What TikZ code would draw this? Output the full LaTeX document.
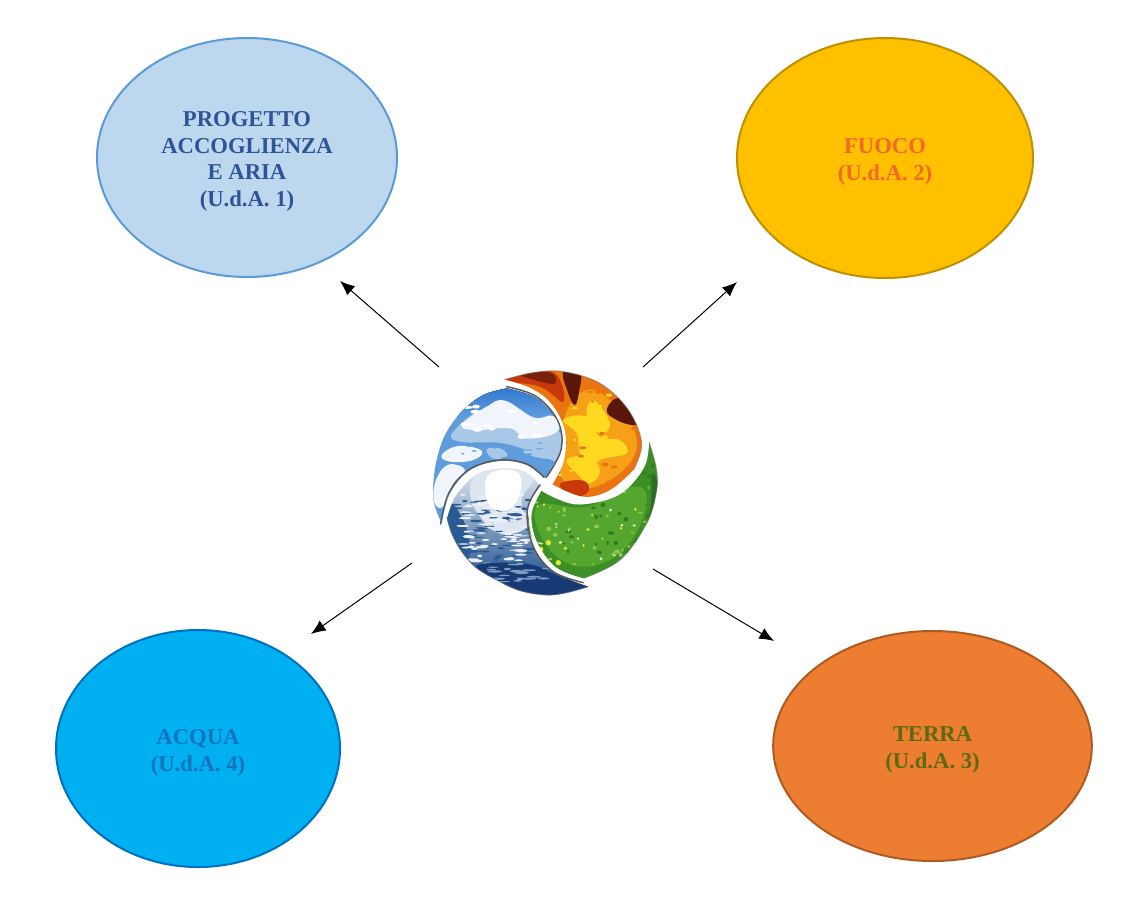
\documentclass[tikz,border=0pt]{standalone}
\usepackage{fontspec}
\setmainfont{Liberation Serif}
\usetikzlibrary{shapes.geometric,arrows.meta}
\definecolor{airfill}{HTML}{BDD7EE}\definecolor{airline}{HTML}{5B9BD5}\definecolor{airtext}{HTML}{2F5496}
\definecolor{firefill}{HTML}{FFC000}\definecolor{fireline}{HTML}{BF9000}\definecolor{firetext}{HTML}{F4682A}
\definecolor{earthfill}{HTML}{ED7D31}\definecolor{earthline}{HTML}{AE5A21}\definecolor{earthtext}{HTML}{5E6A12}
\definecolor{waterfill}{HTML}{00B0F0}\definecolor{waterline}{HTML}{0070C0}\definecolor{watertext}{HTML}{1273BE}
% logo palette
\definecolor{skyA}{HTML}{2A74CE}\definecolor{skyB}{HTML}{5F9CDC}\definecolor{skyC}{HTML}{A9C8E8}\definecolor{skyD}{HTML}{F0F5FB}
\definecolor{flA}{HTML}{EA7410}\definecolor{flB}{HTML}{F6A018}\definecolor{flC}{HTML}{FFD820}\definecolor{flD}{HTML}{5A1608}\definecolor{flE}{HTML}{C8380A}
\definecolor{grA}{HTML}{3C8F26}\definecolor{grB}{HTML}{55A62E}\definecolor{grC}{HTML}{1F5E1E}\definecolor{grD}{HTML}{8CC850}\definecolor{grE}{HTML}{E4E83A}
\definecolor{waA}{HTML}{7E9DC2}\definecolor{waB}{HTML}{2A5A94}\definecolor{waC}{HTML}{DDE6F0}\definecolor{waD}{HTML}{173A74}
\tikzset{
  element/.style={ellipse,draw,line width=1.5pt,inner sep=0pt},
  elementtext/.style={inner sep=0pt,align=center,font=\fontsize{17}{19.9}\selectfont\bfseries},
  link/.style={-{Latex[length=11pt,width=9pt]},line width=.75pt,black},
  edgewhite/.style={draw=white,line width=2pt,line join=round,line cap=round},
  edgedark/.style={draw=black!65,line width=1.1pt,line join=round,line cap=round},
  rim/.style={draw=black!55,line width=.8pt,opacity=.5}
}
\newcommand{\blob}[2]{\fill[#1] plot[smooth cycle,tension=.7] coordinates {#2};}
\newcommand{\speck}[8]{% count, x0, xspan, y0, yspan, rx, ry, colour
  \foreach \i in {1,...,#1}{\pgfmathsetmacro\xx{#2+rnd*#3}\pgfmathsetmacro\yy{#4+rnd*#5}
    \fill[#8] (\xx,\yy) ellipse ({#6*(.5+rnd)} and {#7*(.5+rnd)});}}
\def\skypath{plot[smooth,tension=.6] coordinates {(65,490)(42,430)(40,370)(50,300)(75,225)(125,155)(190,105)(260,85)}
  -- plot[smooth,tension=.6] coordinates {(260,85)(350,115)(415,190)(420,270)(375,355)}
  -- plot[smooth,tension=.6] coordinates {(375,355)(320,315)(240,303)(150,330)(90,400)(65,490)} -- cycle}
\def\firepath{plot[smooth,tension=.6] coordinates {(250,60)(340,38)(430,35)(540,70)(625,150)(665,250)(640,330)}
  -- plot[smooth,tension=.6] coordinates {(640,330)(570,390)(490,410)(395,372)}
  -- plot[smooth,tension=.6] coordinates {(395,372)(430,300)(432,210)(390,130)(330,85)(250,60)} -- cycle}
\def\grasspath{plot[smooth,tension=.6] coordinates {(685,240)(708,320)(710,390)(680,490)(600,600)(490,655)}
  -- plot[smooth,tension=.6] coordinates {(490,655)(400,620)(340,540)(325,470)(360,390)}
  -- plot[smooth,tension=.6] coordinates {(360,390)(420,420)(500,430)(600,400)(670,320)(685,240)} -- cycle}
\def\waterpath{plot[smooth,tension=.6] coordinates {(505,680)(440,698)(380,705)(300,692)(230,660)(165,620)(122,570)(95,520)(80,470)}
  -- plot[smooth,tension=.6] coordinates {(80,470)(105,405)(170,340)(250,320)(320,335)(360,370)}
  -- plot[smooth,tension=.6] coordinates {(360,370)(322,450)(340,560)(400,635)(505,680)} -- cycle}
\begin{document}
\begin{tikzpicture}[x=.75pt,y=-.75pt]
\useasboundingbox (0,0) rectangle (1145,900);
\fill[white] (0,0) rectangle (1145,900);

\node[element,draw=airline,fill=airfill,minimum width=225pt,minimum height=179.25pt] (aria) at (247,157.5) {};
\node[element,draw=fireline,fill=firefill,minimum width=222pt,minimum height=180pt] (fuoco) at (885,158) {};
\node[element,draw=earthline,fill=earthfill,minimum width=239pt,minimum height=172.5pt] (terra) at (932.5,746) {};
\node[element,draw=waterline,fill=waterfill,minimum width=213pt,minimum height=177.75pt] (acqua) at (198,748.5) {};
\node[elementtext,text=airtext] (ariatext) at (247,161.5) {PROGETTO\\ACCOGLIENZA\\E ARIA\\(U.d.A. 1)};
\node[elementtext,text=firetext] (fuocotext) at (885,162) {FUOCO\\(U.d.A. 2)};
\node[elementtext,text=earthtext] (terratext) at (932.5,750) {TERRA\\(U.d.A. 3)};
\node[elementtext,text=watertext] (acquatext) at (198,753) {ACQUA\\(U.d.A. 4)};

\coordinate (s1) at (439,367); \coordinate (e1) at (340,281);
\coordinate (s2) at (643,367); \coordinate (e2) at (737,282);
\coordinate (s3) at (653,569); \coordinate (e3) at (774,641);
\coordinate (s4) at (412,563); \coordinate (e4) at (311,634);
\draw[link] (s1) -- (e1);
\draw[link] (s2) -- (e2);
\draw[link] (s3) -- (e3);
\draw[link] (s4) -- (e4);

\begin{scope}[shift={(420,360)},x=.25pt,y=-.25pt]
  \pgfmathsetseed{11}
  % sky
  \begin{scope}
    \clip \skypath;
    \fill[skyB] (0,60) rectangle (450,520);
    \fill[top color=skyA,bottom color=skyB] (100,70) rectangle (430,170);
    \blob{skyC}{(100,215)(200,145)(330,170)(425,225)(415,300)(360,285)(250,250)(120,245)}
    \blob{skyD}{(125,195)(200,140)(255,122)(340,172)(400,168)(412,215)(320,236)(270,205)(170,210)}
    \speck{12}{120}{280}{135}{100}{14}{6}{white}
    \blob{skyD}{(65,285)(115,258)(185,272)(160,300)(90,305)}
    \blob{skyC}{(310,272)(350,262)(410,275)(395,296)(335,288)}
    \blob{skyC}{(200,268)(240,265)(262,288)(220,296)}
    \blob{skyD}{(48,360)(85,314)(135,330)(100,370)(70,440)(42,425)}
    \speck{16}{60}{340}{245}{60}{10}{3}{skyB}
  \end{scope}
  % fire
  \begin{scope}
    \clip \firepath;
    \fill[flA] (230,20) rectangle (680,420);
    \blob{flE}{(250,60)(340,35)(410,45)(430,125)(360,80)}
    \blob{flB}{(430,180)(500,90)(590,140)(650,240)(610,330)(500,385)(420,340)}
    \blob{flC}{(430,180)(500,170)(540,230)(600,240)(620,280)(540,300)(520,340)(480,280)(470,220)}
    \blob{flC}{(520,120)(570,190)(540,220)(500,170)}
    \blob{flC}{(440,300)(500,290)(540,330)(510,370)(470,340)}
    \speck{16}{420}{220}{100}{280}{8}{4}{flC}
    \speck{16}{410}{240}{60}{330}{8}{4}{flA}
    \blob{flD}{(430,35)(480,40)(478,90)(465,135)(445,100)}
    \blob{flD}{(560,150)(600,115)(660,180)(640,195)(590,180)}
    \blob{flE}{(420,372)(490,362)(505,395)(460,410)}
    \blob{flD!70!flE}{(300,42)(390,38)(405,70)(350,62)}
  \end{scope}
  % grass
  \begin{scope}
    \clip \grasspath;
    \fill[grA] (310,220) rectangle (720,670);
    \blob{grB}{(350,440)(500,440)(640,380)(680,430)(620,560)(500,620)(390,570)}
    \blob{grC!70!grA}{(590,625)(680,490)(700,340)(725,500)(640,650)(500,675)}
    \speck{50}{330}{370}{260}{380}{7}{6}{grC!40!grA}
    \speck{40}{340}{350}{300}{340}{6}{5}{grD}
    \speck{12}{350}{300}{450}{190}{4}{4}{white!70!grD}
    \speck{12}{350}{300}{420}{190}{4}{4}{grE}
    \foreach \px/\py in {385/548,415/608,362/568}{\fill[grE] (\px,\py) circle (8);}
  \end{scope}
  % water
  \begin{scope}
    \clip \waterpath;
    \fill[top color=waC,bottom color=waB] (60,330) rectangle (520,650);
    \fill[waB] (60,640) rectangle (520,720);
    \blob{waB}{(80,430)(125,470)(150,560)(130,610)(70,540)}
    \blob{waC}{(170,345)(260,325)(340,350)(305,420)(320,500)(240,520)(180,470)(150,400)}
    \speck{70}{95}{240}{420}{200}{14}{3}{waB}
    \speck{90}{120}{200}{400}{210}{14}{3}{white!85!waA}
    \blob{white}{(205,345)(290,335)(300,400)(260,450)(205,430)}
    \blob{waD}{(165,620)(320,612)(420,650)(505,680)(400,712)(260,690)}
    \speck{20}{200}{260}{610}{60}{16}{3}{waA}
  \end{scope}
  % outer rim
  \draw[rim] plot[smooth,tension=.6] coordinates {(505,680)(440,698)(380,705)(300,692)(230,660)(165,620)(122,570)(95,520)(80,470)};
  \draw[rim] plot[smooth,tension=.6] coordinates {(685,240)(708,320)(710,390)(680,490)(600,600)(490,655)};
  \draw[rim] plot[smooth,tension=.6] coordinates {(250,60)(340,38)(430,35)(540,70)(625,150)(665,250)(640,330)};
  % dividing lines
  \draw[edgedark] plot[smooth,tension=.6] coordinates {(260,80)(350,110)(415,185)(423,270)(379,352)};
  \draw[edgewhite] plot[smooth,tension=.6] coordinates {(250,62)(330,88)(390,133)(430,210)(428,300)(393,372)};
  \draw[edgedark] plot[smooth,tension=.6] coordinates {(372,352)(320,312)(240,300)(150,327)(87,398)(62,492)};
  \draw[edgewhite] plot[smooth,tension=.6] coordinates {(360,370)(320,333)(250,317)(170,338)(105,403)(78,470)};
  \draw[edgewhite] plot[smooth,tension=.6] coordinates {(370,376)(430,420)(500,428)(600,398)(670,318)(683,240)};
  \draw[edgedark] plot[smooth,tension=.6] coordinates {(360,375)(322,450)(340,560)(400,635)(490,668)};
  \draw[edgewhite] plot[smooth,tension=.6] coordinates {(362,388)(331,460)(346,545)(405,625)(492,660)};
\end{scope}
\end{tikzpicture}
\end{document}
